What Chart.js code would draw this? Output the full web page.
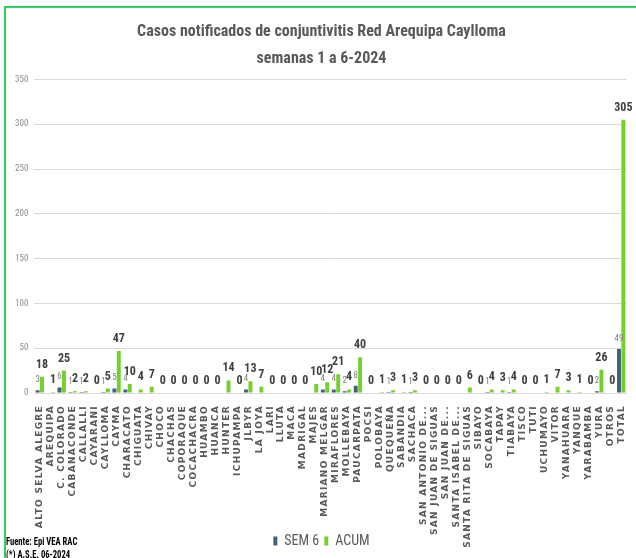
<!DOCTYPE html>
<html>
<head>
<meta charset="utf-8">
<script src="https://cdn.jsdelivr.net/npm/chart.js@4.4.1/dist/chart.umd.min.js"></script>
<style>
  html, body { margin: 0; padding: 0; background: #fff; overflow: hidden; }
  #wrap { position: relative; width: 636px; height: 558px; }
  #frame { position: absolute; left: 4px; top: 6px; width: 700px; height: 600px;
           border-left: 2px solid #2fcf62; border-top: 2px solid #2fcf62; pointer-events: none; }
  canvas { position: absolute; left: 0; top: 0; }
</style>
</head>
<body>
<div id="wrap">
  <canvas id="casosChart" width="636" height="558"></canvas>
  <div id="frame"></div>
</div>
<script>
const distritos = [
  'ALTO SELVA ALEGRE', 'AREQUIPA', 'C. COLORADO', 'CABANACONDE', 'CALLALLI', 'CAYARANI',
  'CAYLLOMA', 'CAYMA', 'CHARACATO', 'CHIGUATA', 'CHIVAY', 'CHOCO', 'CHACHAS', 'COPORAQUE',
  'COCACHACRA', 'HUAMBO', 'HUANCA', 'HUNTER', 'ICHUPAMPA', 'JLBYR', 'LA JOYA', 'LARI',
  'LLUTA', 'MACA', 'MADRIGAL', 'MAJES', 'MARIANO MELGAR', 'MIRAFLORES', 'MOLLEBAYA',
  'PAUCARPATA', 'POCSI', 'POLOBAYA', 'QUEQUEÑA', 'SABANDIA', 'SACHACA', 'SAN ANTONIO DE...',
  'SAN JUAN DE SIGUAS', 'SAN JUAN DE...', 'SANTA ISABEL DE...', 'SANTA RITA DE SIGUAS',
  'SIBAYO', 'SOCABAYA', 'TAPAY', 'TIABAYA', 'TISCO', 'TUTI', 'UCHUMAYO', 'VITOR',
  'YANAHUARA', 'YANQUE', 'YARABAMBA', 'YURA', 'OTROS', 'TOTAL'
];

const sem6 = [
  3, 0, 6, 1, 1, 0, 1, 5, 4, 0, 0, 0, 0, 0, 0, 0, 0, 0, 0, 4, 0, 0, 0, 0, 0, 0, 4, 4, 2,
  8, 0, 0, 1, 0, 1, 0, 0, 0, 0, 0, 0, 1, 0, 1, 0, 0, 0, 0, 0, 0, 0, 2, 0, 49
];

const acum = [
  18, 1, 25, 2, 2, 0, 5, 47, 10, 4, 7, 0, 0, 0, 0, 0, 0, 14, 0, 13, 7, 0, 0, 0, 0, 10, 12, 21, 4,
  40, 0, 1, 3, 1, 3, 0, 0, 0, 0, 6, 0, 4, 3, 4, 0, 0, 1, 7, 3, 1, 0, 26, 0, 305
];

const yTicks = [0, 50, 100, 150, 200, 250, 300, 350];
const titulo = ['Casos notificados de conjuntivitis Red Arequipa Caylloma', 'semanas 1 a 6-2024'];
const fuente = ['Fuente: Epi VEA RAC', '(*) A.S.E. 06-2024'];

const narrow = '"Liberation Sans Narrow", "Arial Narrow", "Roboto Condensed", sans-serif';

// value labels above each bar (SEM 6 zeros are not shown)
const barLabels = {
  id: 'barLabels',
  afterDatasetsDraw(chart) {
    const ctx = chart.ctx;
    ctx.save();
    ctx.textAlign = 'center';
    ctx.textBaseline = 'bottom';
    chart.data.datasets.forEach((ds, i) => {
      const meta = chart.getDatasetMeta(i);
      meta.data.forEach((bar, j) => {
        const v = ds.data[j];
        if (i === 0 && v === 0) return;
        if (i === 0) {
          ctx.font = '9px ' + narrow;
          ctx.fillStyle = '#808080';
        } else {
          ctx.font = 'bold 12px ' + narrow;
          ctx.fillStyle = '#404040';
        }
        ctx.fillText(String(v), bar.x, bar.y - 6);
      });
    });
    ctx.restore();
  }
};

const footNote = {
  id: 'footNote',
  afterDraw(chart) {
    const ctx = chart.ctx;
    ctx.save();
    ctx.font = 'bold 10px ' + narrow;
    ctx.fillStyle = '#000';
    ctx.textBaseline = 'alphabetic';
    ctx.translate(6, 0);
    ctx.scale(0.86, 1);
    ctx.fillText(fuente[0], 0, 545);
    ctx.fillText(fuente[1], 0, 558);
    ctx.restore();
  }
};

new Chart(document.getElementById('casosChart'), {
  type: 'bar',
  data: {
    labels: distritos,
    datasets: [
      {
        label: 'SEM 6',
        data: sem6,
        backgroundColor: '#44607f',
        categoryPercentage: 0.8,
        barPercentage: 0.9
      },
      {
        label: 'ACUM',
        data: acum,
        backgroundColor: '#74d12c',
        categoryPercentage: 0.8,
        barPercentage: 0.9
      }
    ]
  },
  options: {
    responsive: false,
    animation: false,
    devicePixelRatio: 1,
    layout: { padding: { top: 10, left: 9, right: 2, bottom: 0 } },
    plugins: {
      title: {
        display: true,
        text: titulo,
        color: '#595959',
        font: { family: narrow, size: 16, weight: 'bold', lineHeight: 1.7 },
        padding: { top: 8, bottom: 7 }
      },
      legend: {
        position: 'bottom',
        labels: {
          boxWidth: 4,
          boxHeight: 9,
          padding: 5,
          color: '#595959',
          font: { family: narrow, size: 14 }
        }
      },
      tooltip: { enabled: false }
    },
    scales: {
      x: {
        grid: { display: false },
        border: { display: true, color: '#d9d9d9' },
        ticks: {
          autoSkip: false,
          minRotation: 90,
          maxRotation: 90,
          padding: 4,
          color: '#595959',
          font: { family: 'DejaVu Sans', size: 9, weight: 'bold' }
        },
        afterFit(scale) {
          scale.height = 136;
          if (!scale._spaced) {
            // long names run past the axis box into the legend row, as in the original
            scale._computeLabelArea = () => undefined;
            const draw = scale.draw;
            scale.draw = function (area) {
              this.ctx.save();
              this.ctx.letterSpacing = '1.3px';
              draw.call(this, area);
              this.ctx.restore();
            };
            scale._spaced = true;
          }
        }
      },
      y: {
        min: 0,
        max: 350,
        afterBuildTicks(scale) {
          scale.ticks = yTicks.map(v => ({ value: v }));
        },
        grid: { color: '#d9d9d9', drawTicks: false },
        border: { display: false },
        ticks: {
          padding: 6,
          color: '#8c8c8c',
          font: { family: narrow, size: 9 }
        }
      }
    }
  },
  plugins: [barLabels, footNote]
});
</script>
</body>
</html>
